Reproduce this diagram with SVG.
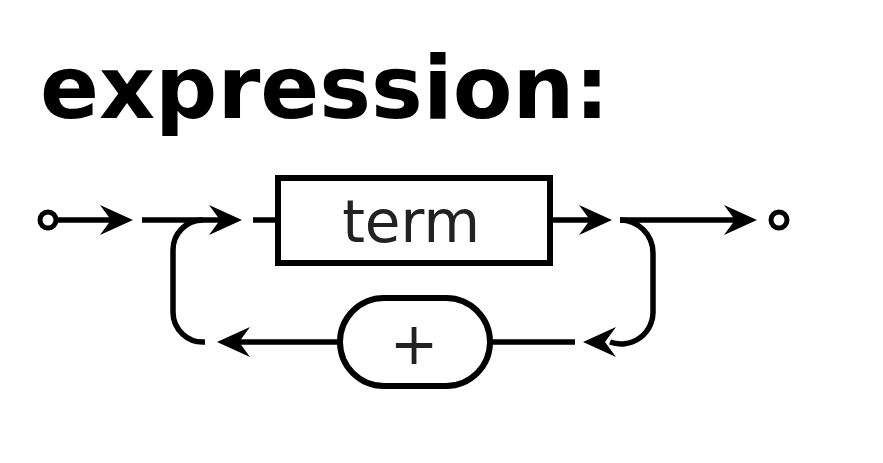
<svg xmlns="http://www.w3.org/2000/svg" xmlns:xlink="http://www.w3.org/1999/xlink" width="883" height="463" viewBox="0 0 883 463">
<style>
.ln{fill:none;stroke:#000;stroke-width:5.5}
.nd{fill:#fff;stroke:#000;stroke-width:6}
.tx{font-family:"DejaVu Sans",sans-serif;fill:#222;text-anchor:middle}
.end{fill:#fff;stroke:#000;stroke-width:5}
</style>
<defs>
<path id="arr" d="M0,0 L-33,-15 L-22,0 L-33,15 Z" fill="#000"/>
</defs>
<rect width="883" height="463" fill="#fff"/>
<text x="40" y="118" font-family="DejaVu Sans, sans-serif" font-weight="bold" font-size="87" fill="#000">expression:</text>
<g id="connectors">
<line class="ln" x1="56" y1="220" x2="112" y2="220"/>
<use xlink:href="#arr" transform="translate(133,220)"/>
<line class="ln" x1="142" y1="220" x2="222" y2="220"/>
<use xlink:href="#arr" transform="translate(242,220)"/>
<line class="ln" x1="253" y1="220" x2="278" y2="220"/>
<path class="ln" d="M203,220 A30,30 0 0 0 173,250 L173,312 A30,30 0 0 0 205,342"/>
<line class="ln" x1="340" y1="342" x2="236" y2="342"/>
<use xlink:href="#arr" transform="translate(217,342) rotate(180)"/>
<line class="ln" x1="490" y1="342" x2="575" y2="342"/>
<use xlink:href="#arr" transform="translate(583,342) rotate(180)"/>
<path class="ln" d="M620,220 A33,33 0 0 1 653,253 L653,310 A32,32 0 0 1 610,342"/>
<line class="ln" x1="550" y1="220" x2="592" y2="220"/>
<use xlink:href="#arr" transform="translate(612,220)"/>
<line class="ln" x1="620" y1="220" x2="737" y2="220"/>
<use xlink:href="#arr" transform="translate(757,220)"/>
</g>
<g id="start"><circle class="end" cx="48" cy="220" r="8"/></g>
<g id="end"><circle class="end" cx="779" cy="220" r="8"/></g>
<g id="term">
<rect class="nd" x="278" y="178" width="272" height="85"/>
<text class="tx" x="411" y="242" font-size="58">term</text>
</g>
<g id="plus">
<rect class="nd" x="340" y="298" width="150" height="88" rx="44"/>
<text class="tx" x="414" y="364" font-size="58">+</text>
</g>
</svg>
